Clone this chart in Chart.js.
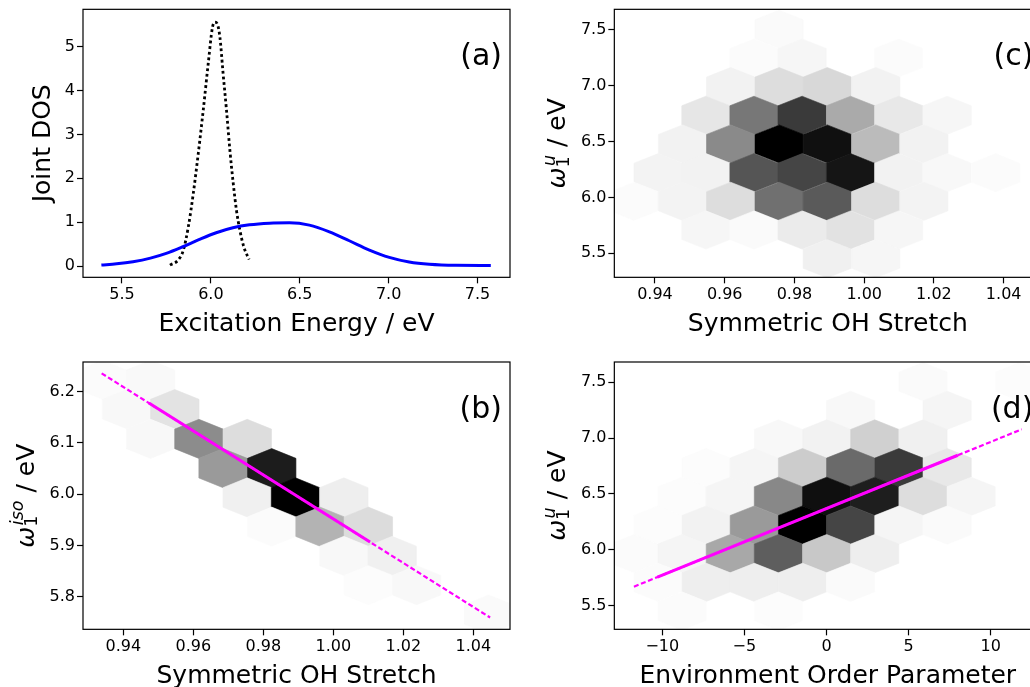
<!DOCTYPE html>
<html>
<head>
<meta charset="utf-8">
<title>Joint DOS and hexbin panels</title>
<script src="https://cdn.jsdelivr.net/npm/chart.js@4.4.1/dist/chart.umd.min.js"></script>
<style>
  html, body { margin: 0; padding: 0; background: #fff; }
  #fig { position: relative; width: 1030px; height: 687px; overflow: hidden; }
  #fig canvas { position: absolute; }
</style>
</head>
<body>
<div id="fig">
  <canvas id="pa" width="515" height="340" style="left:0;top:0"></canvas>
  <canvas id="pb" width="515" height="347" style="left:0;top:340px"></canvas>
  <canvas id="pc" width="540" height="340" style="left:515px;top:0"></canvas>
  <canvas id="pd" width="540" height="347" style="left:515px;top:340px"></canvas>
</div>
<script>
// ---- panel (a): joint DOS ----
const aBlueX = [5.384, 5.470, 5.562, 5.660, 5.749, 5.843, 5.936, 6.030, 6.124, 6.217, 6.330, 6.442, 6.554, 6.667, 6.779, 6.892, 7.004, 7.116, 7.229, 7.378, 7.575];
const aBlueY = [0.023, 0.050, 0.098, 0.180, 0.288, 0.440, 0.606, 0.758, 0.871, 0.939, 0.977, 0.985, 0.932, 0.780, 0.576, 0.364, 0.197, 0.091, 0.038, 0.015, 0.012];
const aDotX = [5.770, 5.817, 5.845, 5.873, 5.901, 5.929, 5.957, 5.985, 6.009, 6.023, 6.036, 6.051, 6.069, 6.088, 6.107, 6.126, 6.144, 6.163, 6.185, 6.215];
const aDotY = [0.02, 0.14, 0.36, 0.89, 1.65, 2.56, 3.55, 4.61, 5.44, 5.56, 5.52, 5.21, 4.38, 3.55, 2.64, 1.88, 1.27, 0.82, 0.44, 0.15];
const aXTicks = [5.5, 6.0, 6.5, 7.0, 7.5];
const aXLabels = ['5.5', '6.0', '6.5', '7.0', '7.5'];
const aYTicks = [0, 1, 2, 3, 4, 5];
const aYLabels = ['0', '1', '2', '3', '4', '5'];

// ---- panel (b): iso frequency vs symmetric stretch ----
const bHexX = [0.9340, 0.9478,
               0.9409, 0.9547,
               0.9478, 0.9616, 0.9754,
               0.9685, 0.9824,
               0.9754, 0.9892, 1.0030,
               0.9824, 0.9962, 1.0100,
               1.0030, 1.0168,
               1.0100, 1.0238,
               1.0444];
const bHexY = [6.223, 6.223,
               6.166, 6.166,
               6.108, 6.108, 6.108,
               6.051, 6.051,
               5.994, 5.994, 5.994,
               5.937, 5.937, 5.937,
               5.880, 5.880,
               5.823, 5.823,
               5.766];
const bHexGray = [251, 249,
                  248, 227,
                  248, 140, 221,
                  154, 28,
                  240, 0, 238,
                  251, 179, 220,
                  248, 240,
                  252, 248,
                  250];
const bFitX = [0.9338, 1.0448];
const bFitY = [6.2357, 5.760];
const bCoreX = [0.9473, 1.0105];
const bCoreY = [6.1778, 5.9070];
const bXTicks = [0.94, 0.96, 0.98, 1.00, 1.02, 1.04];
const bXLabels = ['0.94', '0.96', '0.98', '1.00', '1.02', '1.04'];
const bYTicks = [5.8, 5.9, 6.0, 6.1, 6.2];
const bYLabels = ['5.8', '5.9', '6.0', '6.1', '6.2'];

// ---- panel (c): u frequency vs symmetric stretch ----
const cHexX = [0.9756,
               0.9684, 0.9822, 1.0099,
               0.9617, 0.9756, 0.9894, 1.0033,
               0.9546, 0.9684, 0.9822, 0.9961, 1.0099, 1.0238,
               0.9479, 0.9617, 0.9756, 0.9894, 1.0033, 1.0171,
               0.9409, 0.9546, 0.9684, 0.9822, 0.9961, 1.0099, 1.0238, 1.0377,
               0.9340, 0.9479, 0.9617, 0.9756, 0.9894, 1.0033, 1.0171,
               0.9546, 0.9684, 0.9822, 0.9961, 1.0099,
               0.9894, 1.0033];
const cHexY = [7.506,
               7.249, 7.249, 7.249,
               6.993, 6.993, 6.993, 6.993,
               6.736, 6.736, 6.736, 6.736, 6.736, 6.736,
               6.479, 6.479, 6.479, 6.479, 6.479, 6.479,
               6.222, 6.222, 6.222, 6.222, 6.222, 6.222, 6.222, 6.222,
               5.966, 5.966, 5.966, 5.966, 5.966, 5.966, 5.966,
               5.709, 5.709, 5.709, 5.709, 5.709,
               5.452, 5.452];
const cHexGray = [250,
                  251, 246, 251,
                  242, 221, 216, 242,
                  230, 119, 58, 170, 232, 246,
                  242, 138, 0, 16, 187, 242,
                  243, 242, 85, 69, 21, 242, 248, 251,
                  251, 243, 221, 112, 90, 221, 243,
                  246, 250, 235, 226, 246,
                  240, 246];
const cXTicks = [0.94, 0.96, 0.98, 1.00, 1.02, 1.04];
const cXLabels = ['0.94', '0.96', '0.98', '1.00', '1.02', '1.04'];
const cYTicks = [5.5, 6.0, 6.5, 7.0, 7.5];
const cYLabels = ['5.5', '6.0', '6.5', '7.0', '7.5'];

// ---- panel (d): u frequency vs environment order parameter ----
const dHexX = [5.88, 11.75,
               1.47, 7.35,
               -2.93, 0.01, 2.94, 5.88,
               -7.33, -4.40, -1.46, 1.47, 4.41, 7.35,
               -8.80, -5.86, -2.93, 0.01, 2.94, 5.88, 8.81,
               -10.27, -7.33, -4.40, -1.46, 1.47, 4.41, 7.35,
               -11.73, -8.80, -5.86, -2.93, 0.01, 2.94,
               -10.27, -7.33, -4.40, -1.46, 1.47,
               -8.80, -2.93];
const dHexY = [7.506, 7.506,
               7.249, 7.249,
               6.993, 6.993, 6.993, 6.993,
               6.736, 6.736, 6.736, 6.736, 6.736, 6.736,
               6.479, 6.479, 6.479, 6.479, 6.479, 6.479, 6.479,
               6.222, 6.222, 6.222, 6.222, 6.222, 6.222, 6.222,
               5.966, 5.966, 5.966, 5.966, 5.966, 5.966,
               5.709, 5.709, 5.709, 5.709, 5.709,
               5.452, 5.452];
const dHexGray = [250, 252,
                  248, 245,
                  248, 242, 208, 240,
                  252, 245, 204, 106, 58, 232,
                  252, 245, 136, 15, 30, 221, 245,
                  252, 242, 154, 0, 69, 245, 250,
                  251, 245, 168, 94, 200, 238,
                  251, 238, 238, 238, 250,
                  251, 252];
const dFitX = [-11.73, 11.89];
const dFitY = [5.670, 7.079];
const dCoreX = [-10.3, 8.0];
const dCoreY = [5.7553, 6.8469];
const dXTicks = [-10, -5, 0, 5, 10];
const dXLabels = ['\u221210', '\u22125', '0', '5', '10'];
const dYTicks = [5.5, 6.0, 6.5, 7.0, 7.5];
const dYLabels = ['5.5', '6.0', '6.5', '7.0', '7.5'];

Chart.defaults.font.family = 'DejaVu Sans';
Chart.defaults.color = '#000';

const zip = (xs, ys) => xs.map((x, i) => ({x: x, y: ys[i]}));

// hexagonal bins drawn under the lines, sized in data units
function hexLayer(xs, ys, gray, sx, sy) {
    return {
        id: 'hexLayer',
        beforeDatasetsDraw(chart) {
            const {ctx, chartArea: a, scales} = chart;
            const hx = sx / 2, hy = sy / 6;
            ctx.save();
            ctx.beginPath();
            ctx.rect(a.left, a.top, a.right - a.left, a.bottom - a.top);
            ctx.clip();
            xs.forEach((cx, i) => {
                const cy = ys[i], g = gray[i];
                const corners = [[cx + hx, cy - hy], [cx + hx, cy + hy], [cx, cy + 2 * hy],
                                 [cx - hx, cy + hy], [cx - hx, cy - hy], [cx, cy - 2 * hy]];
                ctx.beginPath();
                corners.forEach(([vx, vy], k) => {
                    const px = scales.x.getPixelForValue(vx), py = scales.y.getPixelForValue(vy);
                    if (k) ctx.lineTo(px, py); else ctx.moveTo(px, py);
                });
                ctx.closePath();
                ctx.fillStyle = ctx.strokeStyle = `rgb(${g},${g},${g})`;
                ctx.lineWidth = 0.6;
                ctx.fill();
                ctx.stroke();
            });
            ctx.restore();
        }
    };
}

// frame, axis titles and panel letter
function panelText(cfg) {
    return {
        id: 'panelText',
        afterDraw(chart) {
            const {ctx, chartArea: a} = chart;
            ctx.save();
            ctx.strokeStyle = '#000';
            ctx.lineWidth = 1.2;
            ctx.strokeRect(a.left, a.top, a.right - a.left, a.bottom - a.top);
            ctx.fillStyle = '#000';
            ctx.textBaseline = 'alphabetic';

            ctx.font = '25px "DejaVu Sans"';
            ctx.textAlign = 'center';
            ctx.fillText(cfg.xTitle, (a.left + a.right) / 2, a.bottom + 54);

            ctx.font = '30px "DejaVu Sans"';
            ctx.textAlign = 'right';
            ctx.fillText(cfg.letter, a.right - 8, a.top + 56);

            ctx.translate(a.left - cfg.yGap, (a.top + a.bottom) / 2);
            ctx.rotate(-Math.PI / 2);
            const t = cfg.yTitle;
            if (typeof t === 'string') {
                ctx.font = '25px "DejaVu Sans"';
                ctx.textAlign = 'center';
                ctx.fillText(t, 0, 0);
            } else {
                const big = '25px "DejaVu Sans"', bigI = 'italic 25px "DejaVu Sans"';
                const small = '17.5px "DejaVu Sans"', smallI = 'italic 17.5px "DejaVu Sans"';
                ctx.font = bigI; const w0 = ctx.measureText(t.base).width;
                ctx.font = small; const w1 = ctx.measureText(t.sub).width;
                ctx.font = smallI; const w2 = ctx.measureText(t.sup).width + 1.5;
                ctx.font = big; const w3 = ctx.measureText(t.rest).width;
                let x = -(w0 + Math.max(w1, w2) + w3) / 2;
                ctx.textAlign = 'left';
                ctx.font = bigI; ctx.fillText(t.base, x, 0);
                x += w0;
                ctx.font = small; ctx.fillText(t.sub, x, 3.4);
                ctx.font = smallI; ctx.fillText(t.sup, x + 1.5, -10.6);
                x += Math.max(w1, w2);
                ctx.font = big; ctx.fillText(t.rest, x, 0);
            }
            ctx.restore();
        }
    };
}

function axis(min, max, ticks, labels, isX, size) {
    return {
        type: 'linear',
        min: min,
        max: max,
        afterBuildTicks: s => { s.ticks = ticks.map(v => ({value: v})); },
        afterFit: s => {
            if (isX) s.height = size; else s.width = size;
            s.paddingTop = s.paddingBottom = s.paddingLeft = s.paddingRight = 0;
        },
        ticks: {
            autoSkip: false,
            maxRotation: 0,
            padding: isX ? 1.5 : 2,
            font: {size: 16},
            color: '#000',
            callback: (v, i) => labels[i]
        },
        grid: {drawOnChartArea: false, drawTicks: true, tickLength: 6, tickWidth: 1.2, tickColor: '#000'},
        border: {display: false}
    };
}

function makePanel(id, box, datasets, plugins) {
    const canvas = document.getElementById(id);
    return new Chart(canvas, {
        type: 'line',
        data: {datasets: datasets},
        options: {
            responsive: false,
            animation: false,
            devicePixelRatio: 1,
            events: [],
            layout: {padding: {left: 0, top: box.top, right: canvas.width - box.right, bottom: 0}},
            plugins: {legend: {display: false}, tooltip: {enabled: false}},
            elements: {point: {radius: 0}, line: {fill: false, borderCapStyle: 'butt'}},
            scales: {
                x: axis(box.xMin, box.xMax, box.xTicks, box.xLabels, true, canvas.height - box.bottom),
                y: axis(box.yMin, box.yMax, box.yTicks, box.yLabels, false, box.left)
            }
        },
        plugins: plugins
    });
}

makePanel('pa', {
    left: 83, right: 510, top: 9.33, bottom: 277.33,
    xMin: 5.2806, xMax: 7.683, yMin: -0.258, yMax: 5.851,
    xTicks: aXTicks, xLabels: aXLabels, yTicks: aYTicks, yLabels: aYLabels
}, [
    {data: zip(aBlueX, aBlueY), borderColor: '#0000ff', borderWidth: 3, cubicInterpolationMode: 'monotone'},
    {data: zip(aDotX, aDotY), borderColor: '#000000', borderWidth: 2.8, borderDash: [2.8, 2.8], cubicInterpolationMode: 'monotone'}
], [panelText({xTitle: 'Excitation Energy / eV', yTitle: 'Joint DOS', yGap: 33, letter: '(a)'})]);

makePanel('pb', {
    left: 83, right: 510, top: 22, bottom: 289.33,
    xMin: 0.92848, xMax: 1.05048, yMin: 5.737, yMax: 6.2578,
    xTicks: bXTicks, xLabels: bXLabels, yTicks: bYTicks, yLabels: bYLabels
}, [
    {data: zip(bFitX, bFitY), borderColor: '#ff00ff', borderWidth: 2.2, borderDash: [5, 2.6]},
    {data: zip(bCoreX, bCoreY), borderColor: '#ff00ff', borderWidth: 3}
], [hexLayer(bHexX, bHexY, bHexGray, 0.01384, 0.1143),
    panelText({xTitle: 'Symmetric OH Stretch', yTitle: {base: '\u03c9', sub: '1', sup: 'iso', rest: ' / eV'}, yGap: 49, letter: '(b)'})]);

makePanel('pc', {
    left: 99.33, right: 526.33, top: 9.33, bottom: 277.33,
    xMin: 0.92834, xMax: 1.0508, yMin: 5.285, yMax: 7.685,
    xTicks: cXTicks, xLabels: cXLabels, yTicks: cYTicks, yLabels: cYLabels
}, [], [hexLayer(cHexX, cHexY, cHexGray, 0.01384, 0.513),
    panelText({xTitle: 'Symmetric OH Stretch', yTitle: {base: '\u03c9', sub: '1', sup: 'u', rest: ' / eV'}, yGap: 49, letter: '(c)'})]);

makePanel('pd', {
    left: 99.33, right: 526.33, top: 22, bottom: 289.33,
    xMin: -12.924, xMax: 13.086, yMin: 5.288, yMax: 7.682,
    xTicks: dXTicks, xLabels: dXLabels, yTicks: dYTicks, yLabels: dYLabels
}, [
    {data: zip(dFitX, dFitY), borderColor: '#ff00ff', borderWidth: 2.2, borderDash: [5, 2.6]},
    {data: zip(dCoreX, dCoreY), borderColor: '#ff00ff', borderWidth: 3}
], [hexLayer(dHexX, dHexY, dHexGray, 2.935, 0.513),
    panelText({xTitle: 'Environment Order Parameter', yTitle: {base: '\u03c9', sub: '1', sup: 'u', rest: ' / eV'}, yGap: 49, letter: '(d)'})]);
</script>
</body>
</html>
